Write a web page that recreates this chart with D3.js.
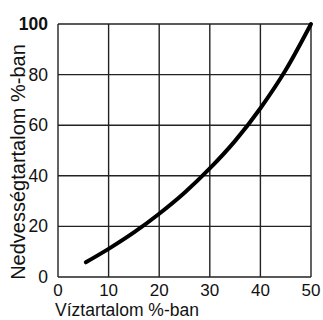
<!DOCTYPE html>
<html>
<head>
<meta charset="utf-8">
<script src="https://cdn.jsdelivr.net/npm/d3@7"></script>
<style>
body { margin: 0; background: #fff; }
text { font-family: "Liberation Sans", Arial, sans-serif; fill: #111; }
</style>
</head>
<body>
<div id="chart"></div>
<script>
// values
let water = [5.5, 10, 15, 20, 25, 30, 35, 40, 45, 50];
let moisture = [5.8, 11.1, 17.6, 25, 33.3, 42.9, 53.8, 66.7, 81.8, 100];
let xTicks = [0, 10, 20, 30, 40, 50];
let yTicks = [0, 20, 40, 60, 80, 100];
let xTitle = "Víztartalom %-ban";
let yTitle = "Nedvességtartalom %-ban";

let width = 323, height = 320;
let margin = { left: 58, top: 24, right: 12, bottom: 43 };

let svg = d3.select("#chart").append("svg")
    .attr("width", width)
    .attr("height", height);

let x = d3.scaleLinear().domain([0, 50]).range([margin.left, width - margin.right]);
let y = d3.scaleLinear().domain([0, 100]).range([height - margin.bottom, margin.top]);

// grid
svg.selectAll()
    .data(xTicks)
    .enter()
    .append("line")
    .attr("x1", d => x(d)).attr("x2", d => x(d))
    .attr("y1", y(0)).attr("y2", y(100))
    .style("stroke", "#222")
    .style("stroke-width", 1.4);
svg.selectAll()
    .data(yTicks)
    .enter()
    .append("line")
    .attr("x1", x(0)).attr("x2", x(50))
    .attr("y1", d => y(d)).attr("y2", d => y(d))
    .style("stroke", "#222")
    .style("stroke-width", 1.4);

// tick labels
svg.selectAll()
    .data(xTicks)
    .enter()
    .append("text")
    .attr("x", d => x(d))
    .attr("y", y(0) + 19)
    .attr("text-anchor", "middle")
    .attr("font-size", "17px")
    .text(d => d);
svg.selectAll()
    .data(yTicks)
    .enter()
    .append("text")
    .attr("x", x(0) - 10)
    .attr("y", d => y(d) + 6)
    .attr("text-anchor", "end")
    .attr("font-size", "17.5px")
    .attr("font-weight", d => d == 100 ? "bold" : "normal")
    .text(d => d);

// axis titles
svg.append("text")
    .attr("x", 55)
    .attr("y", 316)
    .attr("font-size", "17.5px")
    .text(xTitle);
svg.append("text")
    .attr("transform", "translate(25,162) rotate(-90)")
    .attr("text-anchor", "middle")
    .attr("font-size", "20px")
    .text(yTitle);

// curve
let pts = water.map((w, i) => [w, moisture[i]]);
svg.append("path")
    .datum(pts)
    .attr("d", d3.line().x(d => x(d[0])).y(d => y(d[1])).curve(d3.curveMonotoneX))
    .style("fill", "none")
    .style("stroke", "#000")
    .style("stroke-width", 4)
    .style("stroke-linecap", "round");
</script>
</body>
</html>
